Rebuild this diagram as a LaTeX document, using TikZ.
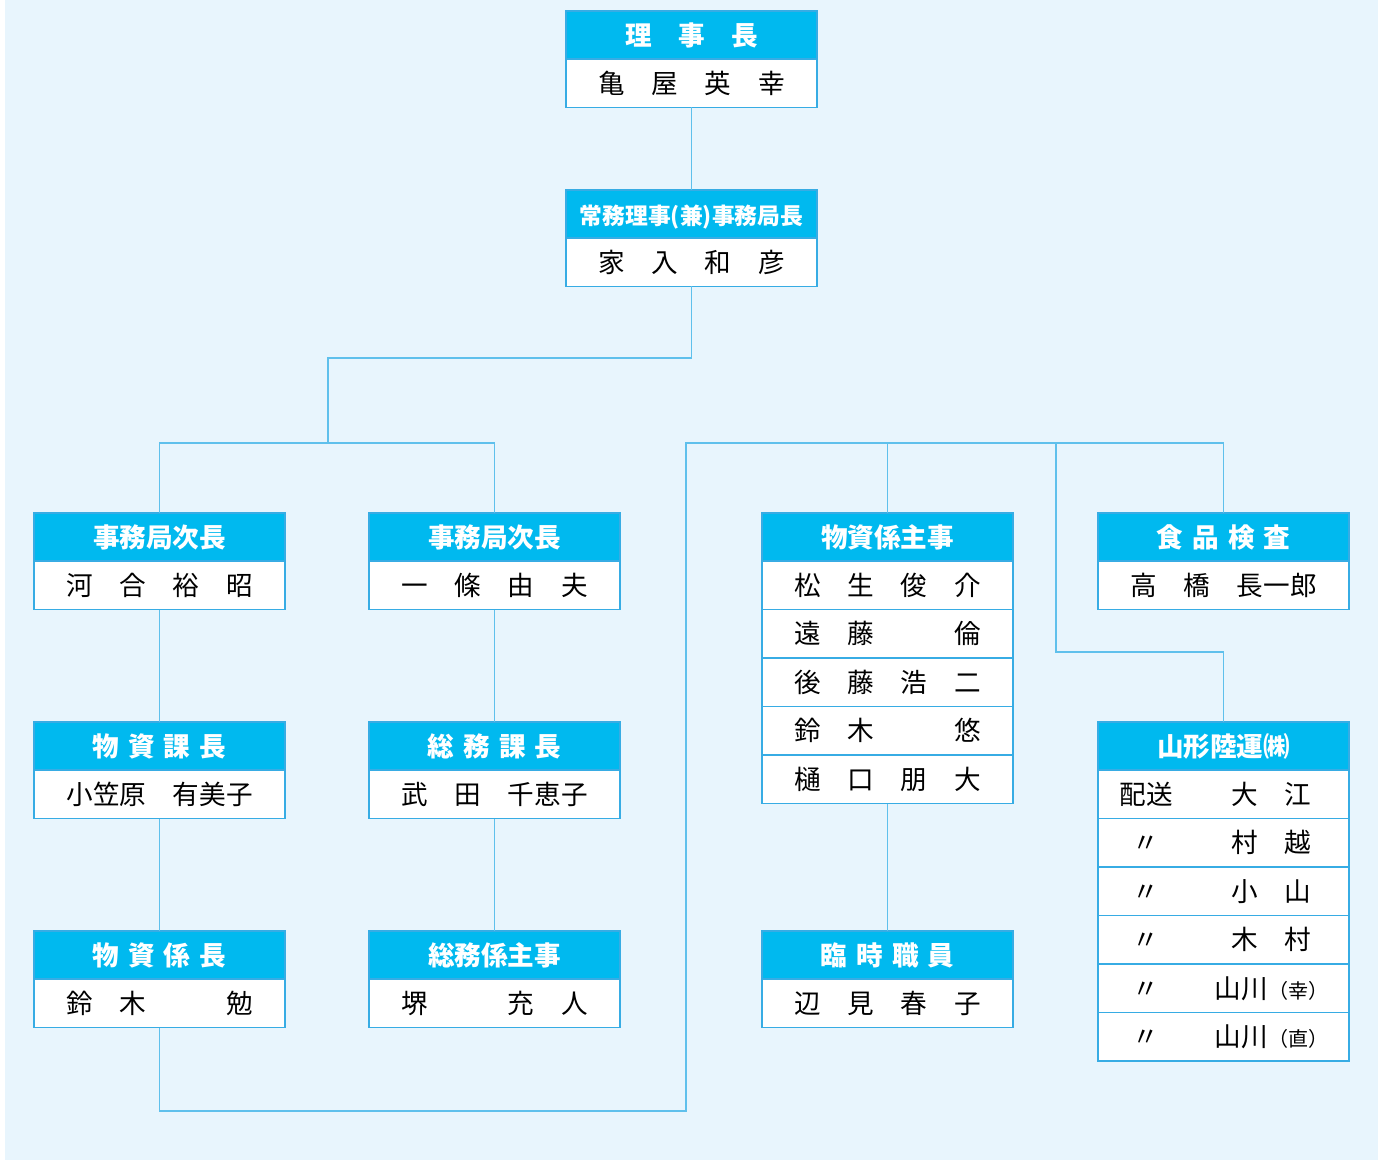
\documentclass[tikz,border=0pt]{standalone}
\usepackage{fontspec}
\setmainfont{Noto Sans CJK JP}
\usetikzlibrary{positioning}
\definecolor{bgblue}{RGB}{232,245,253}
\definecolor{headblue}{RGB}{0,185,239}
\definecolor{frameblue}{RGB}{55,172,228}
\definecolor{lineblue}{RGB}{95,192,236}
\tikzset{head/.style={draw=frameblue, fill=headblue, line width=0.75pt, minimum width=125.5pt, minimum height=24pt, inner sep=0pt, outer sep=0pt, text=white, font=\fontsize{13.3}{16}\selectfont\bfseries, text height=11.7pt, text depth=1.6pt}}
\tikzset{body/.style={draw=frameblue, fill=white, line width=0.75pt, minimum width=125.5pt, minimum height=24.25pt, inner sep=0pt, outer sep=0pt, font=\fontsize{13.3}{16}\selectfont, text height=11.7pt, text depth=1.6pt}}
\tikzset{link/.style={draw=lineblue, line width=0.65pt}}
\newcommand{\hgap}{\hspace{0.34em}}
\newcommand{\duty}[2]{\makebox[48pt]{#1}\makebox[77.5pt]{#2}}
\newcommand{\paren}[1]{{\fontsize{10}{12}\selectfont（#1）}}

\begin{document}
\begin{tikzpicture}[x=0.5pt, y=-0.5pt]
    \useasboundingbox (0,0) rectangle (1386,1160);
    \fill [bgblue] (5,0) rectangle (1378,1160);

    \coordinate (split) at (328,443);
    \coordinate (turn) at (686,443);
    \coordinate (branch) at (1056,443);
    \coordinate (bottom) at (686,1111);

    \node [head] (rijicho) at (691.5,35) {理　事　長};
    \node [body, below=0pt of rijicho] (rijichoN) {亀　屋　英　幸};

    \node [head, font=\fontsize{11.4}{14}\selectfont\bfseries] (jimu) at (691.5,214) {常務理事(兼)事務局長};
    \node [body, below=0pt of jimu] (jimuN) {家　入　和　彦};

    \node [head] (jichoA) at (159.5,537) {事務局次長};
    \node [body, below=0pt of jichoA] (jichoAN) {河　合　裕　昭};
    \node [head] (jichoB) at (494.5,537) {事務局次長};
    \node [body, below=0pt of jichoB] (jichoBN) {一　條　由　夫};

    \node [head] (shuji) at (887.5,537) {物資係主事};
    \node [body, below=0pt of shuji] (shuji1) {松　生　俊　介};
    \node [body, below=0pt of shuji1] (shuji2) {遠　藤　　　倫};
    \node [body, below=0pt of shuji2] (shuji3) {後　藤　浩　二};
    \node [body, below=0pt of shuji3] (shuji4) {鈴　木　　　悠};
    \node [body, below=0pt of shuji4] (shuji5) {樋　口　朋　大};

    \node [head] (kensa) at (1223.5,537) {食\hgap 品\hgap 検\hgap 査};
    \node [body, below=0pt of kensa] (kensaN) {高　橋　長一郎};

    \node [head] (kacho) at (159.5,746) {物\hgap 資\hgap 課\hgap 長};
    \node [body, below=0pt of kacho] (kachoN) {小笠原　有美子};
    \node [head] (somu) at (494.5,746) {総\hgap 務\hgap 課\hgap 長};
    \node [body, below=0pt of somu] (somuN) {武　田　千恵子};

    \node [head] (unyu) at (1223.5,746) {山形陸運㈱};
    \node [body, below=0pt of unyu] (unyu1) {\duty{配送}{大　江}};
    \node [body, below=0pt of unyu1] (unyu2) {\duty{〃}{村　越}};
    \node [body, below=0pt of unyu2] (unyu3) {\duty{〃}{小　山}};
    \node [body, below=0pt of unyu3] (unyu4) {\duty{〃}{木　村}};
    \node [body, below=0pt of unyu4] (unyu5) {\duty{〃}{山川\paren{幸}}};
    \node [body, below=0pt of unyu5] (unyu6) {\duty{〃}{山川\paren{直}}};

    \node [head] (kakari) at (159.5,955) {物\hgap 資\hgap 係\hgap 長};
    \node [body, below=0pt of kakari] (kakariN) {鈴　木　　　勉};
    \node [head] (somushuji) at (494.5,955) {総務係主事};
    \node [body, below=0pt of somushuji] (somushujiN) {堺　　　充　人};
    \node [head] (rinji) at (887.5,955) {臨\hgap 時\hgap 職\hgap 員};
    \node [body, below=0pt of rinji] (rinjiN) {辺　見　春　子};

    \draw [link] (rijichoN.south) -- (jimu.north);
    \draw [link] (jimuN.south) |- (328,358) -- (split);
    \draw [link] (jichoA.north) |- (split) -| (jichoB.north);
    \draw [link] (jichoAN.south) -- (kacho.north);
    \draw [link] (kachoN.south) -- (kakari.north);
    \draw [link] (jichoBN.south) -- (somu.north);
    \draw [link] (somuN.south) -- (somushuji.north);
    \draw [link] (kakariN.south) |- (bottom) -- (turn) -| (kensa.north);
    \draw [link] (shuji.north) -- (shuji.north |- turn);
    \draw [link] (branch) -- ++(0,209) -| (unyu.north);
    \draw [link] (shuji5.south) -- (rinji.north);
\end{tikzpicture}
\end{document}
